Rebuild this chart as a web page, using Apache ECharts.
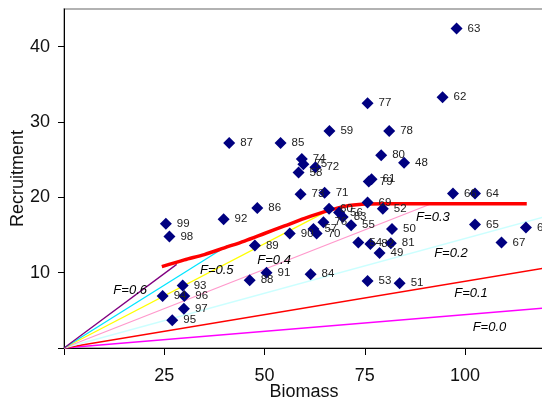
<!DOCTYPE html>
<html>
<head>
<meta charset="utf-8">
<script src="https://cdn.jsdelivr.net/npm/echarts@6/dist/echarts.min.js"></script>
<style>
html,body{margin:0;padding:0;background:#fff;}
#c{width:542px;height:402px;}
</style>
</head>
<body>
<div id="c"></div>
<script>
// ---- data ----
var yearIds = [48,49,50,51,52,53,54,55,56,57,58,59,60,61,62,63,64,65,66,67,68,69,70,71,72,73,74,75,76,77,78,79,80,81,82,83,84,85,86,87,88,89,90,91,92,93,94,95,96,97,98,99];
var biomass = [84.8,78.7,81.8,83.7,79.5,75.7,73.4,71.6,68.6,62.2,58.5,66.2,66.1,76.7,94.4,97.9,102.5,102.5,97.0,109.1,115.2,75.7,63.0,65.0,62.7,59.0,59.3,59.7,64.7,75.7,81.1,76.0,79.1,81.5,76.4,69.5,61.5,54.0,48.2,41.2,46.3,47.6,56.3,50.5,39.8,29.6,24.6,27.0,30.0,29.9,26.3,25.4];
var recruitment = [24.6,12.6,15.8,8.6,18.5,8.9,14.0,16.3,18.0,15.8,23.3,28.8,18.5,22.4,33.3,42.4,20.5,16.4,20.5,14.0,16.0,19.3,15.2,20.6,24.0,20.4,25.1,24.4,16.7,32.5,28.8,22.1,25.6,13.9,13.8,17.4,9.8,27.2,18.6,27.2,9.0,13.6,15.2,10.0,17.1,8.3,6.9,3.7,6.9,5.2,14.8,16.5];

var curveX = [24.4,30,35,40,45,50,55,60,65,70,75,80,115.4];
var curveY = [10.8,11.7,12.4,13.3,14.2,15.2,16.2,17.2,18.1,18.8,19.1,19.15,19.15];

var fNames = ['F=0.0','F=0.1','F=0.2','F=0.3','F=0.4','F=0.5','F=0.6'];
var fEndX = [119.7,119.7,119.7,91.6,66.1,40.8,28.1];
var fEndY = [5.3,10.6,17.4,19.15,18.3,13.6,11.1];
var fLabelX = [106.1,101.5,96.5,92.0,52.4,38.1,16.5];
var fLabelY = [2.7,7.3,12.5,17.4,11.6,10.3,7.6];

var xTicks = [0,25,50,75,100];
var xTickLabels = [25,50,75,100];
var yTicks = [0,10,20,30,40];
var yTickLabels = [10,20,30,40];

// ---- styles ----
var fColors = ['#ff00ff','#ff0000','#ccffff','#ff99cc','#ffff00','#00e5ff','#800080'];

var series = [];
for (var i = 0; i < fNames.length; i++) {
  series.push({
    type: 'line', name: fNames[i], silent: true, symbol: 'none', z: 2,
    lineStyle: {color: fColors[i], width: 1.3},
    data: [[0,0],[fEndX[i], fEndY[i]]]
  });
}
series.push({
  type: 'line', name: 'curve', symbol: 'none', z: 3, smooth: 0.3,
  lineStyle: {color: '#ff0000', width: 3.5},
  data: curveX.map(function(x,i){return [x, curveY[i]];})
});
series.push({
  type: 'scatter', name: 'F labels', symbol: 'circle', symbolSize: 1, z: 4,
  itemStyle: {color: 'rgba(0,0,0,0)', opacity: 1},
  label: {show: true, position: 'inside', formatter: '{b}', color: '#000', opacity: 1,
          fontFamily: 'Liberation Sans', fontStyle: 'italic', fontSize: 13},
  data: fNames.map(function(n,i){return {name: n, value: [fLabelX[i], fLabelY[i]]};})
});
series.push({
  type: 'scatter', name: 'years', symbol: 'diamond', symbolSize: 12, z: 5,
  itemStyle: {color: '#000080', opacity: 1},
  label: {show: true, position: 'right', distance: 5, formatter: '{b}',
          color: '#222', fontFamily: 'Liberation Sans', fontSize: 11.5},
  data: yearIds.map(function(id,i){return {name: String(id), value: [biomass[i], recruitment[i]]};})
});

var chart = echarts.init(document.getElementById('c'), null, {renderer: 'canvas'});
chart.setOption({
  animation: false,
  backgroundColor: '#fff',
  grid: {left: 64, top: 9, right: -2, bottom: 54, outerBoundsMode: 'none', containLabel: false,
         show: true, borderColor: '#999', borderWidth: 1.5},
  xAxis: {
    type: 'value', min: 0, max: 119.7,
    name: 'Biomass', nameLocation: 'middle', nameGap: 35, nameMoveOverlap: false,
    nameTextStyle: {fontFamily: 'Liberation Sans', fontSize: 18, color: '#111'},
    axisLine: {show: true, lineStyle: {color: '#000', width: 1}},
    axisTick: {show: true, length: 7, lineStyle: {color: '#000'}, customValues: xTicks},
    axisLabel: {customValues: xTickLabels, margin: 19, fontFamily: 'Liberation Sans', fontSize: 18, color: '#111'},
    splitLine: {show: false}
  },
  yAxis: {
    type: 'value', min: 0, max: 45,
    name: 'Recruitment', nameLocation: 'middle', nameGap: 37, nameMoveOverlap: false,
    nameTextStyle: {fontFamily: 'Liberation Sans', fontSize: 18, color: '#111'},
    axisLine: {show: true, lineStyle: {color: '#000', width: 1}},
    axisTick: {show: true, length: 6, lineStyle: {color: '#000'}, customValues: yTicks},
    axisLabel: {customValues: yTickLabels, margin: 14, fontFamily: 'Liberation Sans', fontSize: 18, color: '#111'},
    splitLine: {show: false}
  },
  series: series
});
</script>
</body>
</html>
